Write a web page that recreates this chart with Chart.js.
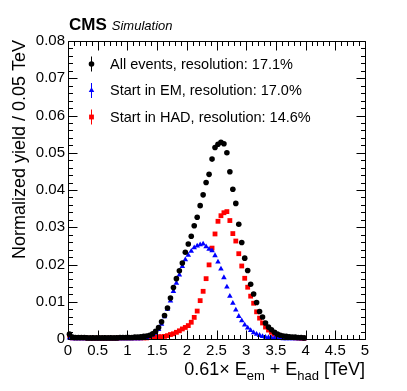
<!DOCTYPE html>
<html>
<head>
<meta charset="utf-8">
<script src="https://cdn.jsdelivr.net/npm/chart.js@4.4.1/dist/chart.umd.min.js"></script>
<style>
  html, body { margin: 0; padding: 0; background: #fff; }
  canvas { display: block; }
</style>
</head>
<body>
<canvas id="chart" width="407" height="391"></canvas>
<script>
// 0.05 TeV bins, first bin centre at 0.025
const BIN_LOW = 0.025
const BIN_WIDTH = 0.05

// normalized yield per bin (bins 0..79 -> 0 to 4 TeV)
const allEvents = [
  0.0013, 0.0005, 0.0004, 0.0004, 0.0004, 0.0004, 0.0003, 0.0003, 0.0003, 0.0003,
  0.0003, 0.0003, 0.0003, 0.0003, 0.0003, 0.0003, 0.0003, 0.0004, 0.0004, 0.0004,
  0.0004, 0.0004, 0.0005, 0.0005, 0.0006, 0.0007, 0.0008, 0.0010, 0.0014, 0.0021,
  0.0031, 0.0046, 0.0063, 0.0083, 0.0110, 0.0138, 0.0162, 0.0183, 0.0204, 0.0233,
  0.0255, 0.0276, 0.0304, 0.0327, 0.0358, 0.0387, 0.0420, 0.0442, 0.0483, 0.0514,
  0.0523, 0.0528, 0.0524, 0.0500, 0.0449, 0.0402, 0.0364, 0.0308, 0.0259, 0.0217,
  0.0184, 0.0147, 0.0121, 0.0098, 0.0074, 0.0059, 0.0043, 0.0032, 0.0025, 0.0018,
  0.0013, 0.0010, 0.0008, 0.0007, 0.0006, 0.0005, 0.0005, 0.0004, 0.0004, 0.0003,
]
const startEM = [
  0.0003, 0.0001, 0.0001, 0.0001, 0.0001, 0.0001, 0.0001, 0.0001, 0.0001, 0.0001,
  0.0001, 0.0001, 0.0001, 0.0001, 0.0001, 0.0001, 0.0001, 0.0001, 0.0001, 0.0001,
  0.0001, 0.0001, 0.0001, 0.0001, 0.0001, 0.0002, 0.0004, 0.0007, 0.0011, 0.0016,
  0.0026, 0.0040, 0.0060, 0.0080, 0.0102, 0.0128, 0.0150, 0.0172, 0.0195, 0.0213,
  0.0225, 0.0236, 0.0245, 0.0250, 0.0253, 0.0255, 0.0248, 0.0241, 0.0237, 0.0224,
  0.0207, 0.0188, 0.0165, 0.0140, 0.0115, 0.0096, 0.0078, 0.0061, 0.0049, 0.0038,
  0.0030, 0.0023, 0.0017, 0.0013, 0.0010, 0.0007, 0.0005, 0.0004, 0.0003, 0.0002,
  0.0002, 0.0002, 0.0001, 0.0001, 0.0001, 0.0001, 0.0001, 0.0001, 0.0001, 0.0001,
]
const startHAD = [
  0.0010, 0.0003, 0.0003, 0.0003, 0.0003, 0.0003, 0.0002, 0.0002, 0.0002, 0.0002,
  0.0002, 0.0002, 0.0002, 0.0002, 0.0002, 0.0002, 0.0002, 0.0003, 0.0003, 0.0003,
  0.0003, 0.0003, 0.0003, 0.0003, 0.0003, 0.0003, 0.0003, 0.0004, 0.0004, 0.0005,
  0.0006, 0.0006, 0.0007, 0.0009, 0.0012, 0.0014, 0.0018, 0.0022, 0.0027, 0.0031,
  0.0036, 0.0045, 0.0058, 0.0075, 0.0103, 0.0128, 0.0162, 0.0199, 0.0244, 0.0282,
  0.0316, 0.0331, 0.0339, 0.0342, 0.0318, 0.0283, 0.0263, 0.0229, 0.0196, 0.0163,
  0.0139, 0.0115, 0.0096, 0.0073, 0.0056, 0.0043, 0.0032, 0.0024, 0.0018, 0.0013,
  0.0010, 0.0008, 0.0006, 0.0005, 0.0004, 0.0004, 0.0003, 0.0003, 0.0002, 0.0002,
]

const legendLabels = [
  'All events, resolution: 17.1%',
  'Start in EM, resolution: 17.0%',
  'Start in HAD, resolution: 14.6%',
]

const FONT = '"Liberation Sans", Arial, Helvetica, sans-serif'

function toPoints(values) {
  return values.map((v, i) => ({ x: BIN_LOW + i * BIN_WIDTH, y: v }))
}

var series = [
  { data: allEvents, color: '#000000', style: 'circle',   radius: 2.8 },
  { data: startEM,   color: '#0000ff', style: 'triangle', radius: 3.2 },
  { data: startHAD,  color: '#ff0000', style: 'rect',     radius: 3.4 },
]

// ROOT-like frame: ticks inside on all four sides, titles, legend, CMS label
const rootStyle = {
  id: 'rootStyle',
  beforeDraw(chart) {
    const ctx = chart.ctx
    ctx.save()
    ctx.fillStyle = '#fff'
    ctx.fillRect(0, 0, chart.width, chart.height)
    ctx.restore()
  },
  afterDraw(chart) {
    const { ctx, chartArea: a, scales: { x, y } } = chart
    const L = Math.round(a.left) + 0.5, R = Math.round(a.right) + 0.5
    const T = Math.round(a.top) + 0.5, B = Math.round(a.bottom) + 0.5
    ctx.save()
    ctx.strokeStyle = '#000'
    ctx.lineWidth = 1
    ctx.beginPath()
    ctx.rect(L, T, R - L, B - T)
    for (let k = 0; k <= 50; k++) {
      const px = Math.round(x.getPixelForValue(k / 10)) + 0.5
      const len = k % 5 === 0 ? 9 : 4.5
      ctx.moveTo(px, B); ctx.lineTo(px, B - len)
      ctx.moveTo(px, T); ctx.lineTo(px, T + len)
    }
    for (let k = 0; k <= 40; k++) {
      const py = Math.round(y.getPixelForValue(k * 0.002)) + 0.5
      const len = k % 5 === 0 ? 9 : 4.5
      ctx.moveTo(L, py); ctx.lineTo(L + len, py)
      ctx.moveTo(R, py); ctx.lineTo(R - len, py)
    }
    ctx.stroke()

    ctx.fillStyle = '#000'
    // CMS Simulation
    ctx.textBaseline = 'alphabetic'
    ctx.textAlign = 'left'
    ctx.font = 'bold 17px ' + FONT
    ctx.fillText('CMS', 69, 30)
    const cmsW = ctx.measureText('CMS').width
    ctx.font = 'italic 13px ' + FONT
    ctx.fillText('Simulation', 69 + cmsW + 5, 30)

    // y title
    ctx.save()
    ctx.translate(25, 40)
    ctx.rotate(-Math.PI / 2)
    ctx.textAlign = 'right'
    ctx.font = '18px ' + FONT
    ctx.fillText('Normalized yield / 0.05 TeV', 0, 0)
    ctx.restore()

    // x title with subscripts, right aligned to the frame
    const parts = [
      ['0.61', 18, 0], ['\u00d7', 18, 0], [' E', 18, 0], ['em', 13, 5],
      [' + E', 18, 0], ['had', 13, 5], [' [TeV]', 18, 0],
    ]
    let total = 0
    parts.forEach(p => { ctx.font = p[1] + 'px ' + FONT; total += ctx.measureText(p[0]).width })
    let cx = 365 - total
    parts.forEach(p => {
      ctx.font = p[1] + 'px ' + FONT
      ctx.fillText(p[0], cx, 375 + p[2])
      cx += ctx.measureText(p[0]).width
    })

    // legend
    const rows = [64, 90.5, 117]
    series.forEach((s, i) => {
      const ly = rows[i]
      ctx.strokeStyle = s.color
      ctx.fillStyle = s.color
      ctx.beginPath()
      ctx.moveTo(91.5, ly - 7.5); ctx.lineTo(91.5, ly + 7.5)
      ctx.stroke()
      Chart.helpers.drawPoint(ctx, { pointStyle: s.style, radius: s.radius, rotation: 0, borderWidth: 0 }, 91.5, ly)
      ctx.fillStyle = '#000'
      ctx.font = '14.5px ' + FONT
      ctx.textBaseline = 'middle'
      ctx.fillText(legendLabels[i], 110, ly + 0.5)
    })
    ctx.restore()
  },
}

new Chart(document.getElementById('chart'), {
  type: 'scatter',
  data: {
    datasets: series.map(s => ({
      data: toPoints(s.data),
      pointStyle: s.style,
      pointRadius: s.radius,
      pointHoverRadius: s.radius,
      pointBorderWidth: 0,
      backgroundColor: s.color,
      borderColor: s.color,
      showLine: false,
      clip: false,
    })),
  },
  options: {
    responsive: false,
    animation: false,
    devicePixelRatio: 1,
    layout: { padding: { top: 41, right: 42, bottom: 0, left: 0 } },
    plugins: { legend: { display: false }, tooltip: { enabled: false } },
    scales: {
      x: {
        type: 'linear',
        min: 0,
        max: 5,
        afterFit(s) { s.height = 52 },
        grid: { display: false, drawTicks: false },
        border: { display: false },
        ticks: {
          stepSize: 0.5,
          padding: 3,
          autoSkip: false,
          maxRotation: 0,
          color: '#000',
          font: { family: FONT, size: 15 },
          callback: v => v === 0 ? '0' : String(+v.toFixed(1)),
        },
      },
      y: {
        type: 'linear',
        min: 0,
        max: 0.08,
        afterFit(s) { s.width = 68 },
        grid: { display: false, drawTicks: false },
        border: { display: false },
        ticks: {
          stepSize: 0.01,
          padding: 3,
          color: '#000',
          font: { family: FONT, size: 15 },
          callback: v => v === 0 ? '0' : v.toFixed(2),
        },
      },
    },
  },
  plugins: [rootStyle],
})
</script>
</body>
</html>
